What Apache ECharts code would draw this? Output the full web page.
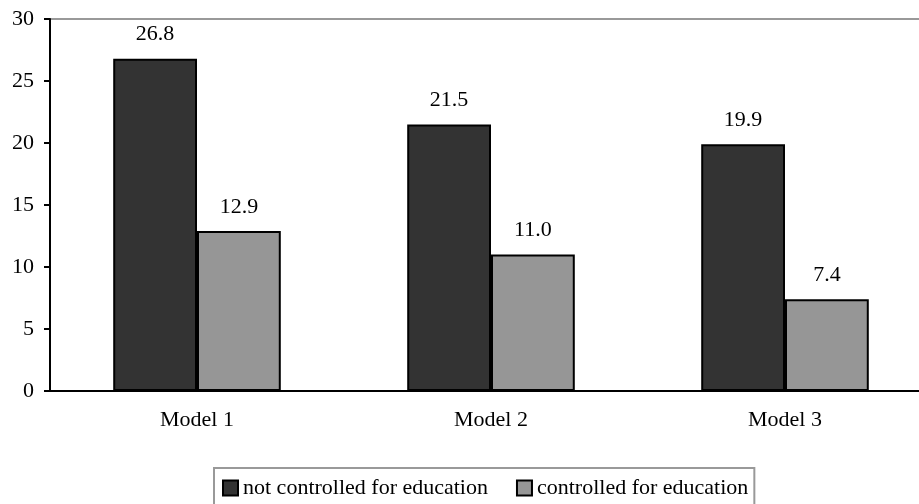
<!DOCTYPE html>
<html>
<head>
<meta charset="utf-8">
<script src="https://cdn.jsdelivr.net/npm/echarts@6/dist/echarts.min.js"></script>
<style>html,body{margin:0;padding:0;background:#fff;overflow:hidden;width:919px;height:504px}#c{width:940px;height:504px}</style>
</head>
<body>
<div id="c"></div>
<script>
const categories = ['Model 1', 'Model 2', 'Model 3'];
const notControlled = [26.8, 21.5, 19.9];
const controlled = [12.9, 11.0, 7.4];
const seriesNames = ['not controlled for education', 'controlled for education'];

const serif = '"Liberation Serif", "Times New Roman", serif';
const chart = echarts.init(document.getElementById('c'));
const labelCfg = {
  show: true, position: 'top', distance: 13,
  fontFamily: serif, fontSize: 22, color: '#000',
  formatter: p => p.value.toFixed(1)
};
chart.setOption({
  animation: false,
  backgroundColor: '#fff',
  grid: { left: 50, width: 882, top: 19, bottom: 113, show: true, borderColor: '#999', borderWidth: 2, containLabel: false },
  legend: {
    top: 468, left: 214,
    data: seriesNames,
    borderColor: '#999', borderWidth: 2, borderRadius: 0,
    padding: [9, 6, 20, 8],
    itemWidth: 15, itemHeight: 15, itemGap: 28,
    icon: 'rect',
    textStyle: { fontFamily: serif, fontSize: 22, color: '#000' }
  },
  xAxis: {
    type: 'category', data: categories,
    axisLine: { lineStyle: { color: '#000', width: 2 } },
    axisTick: { show: false },
    axisLabel: { fontFamily: serif, fontSize: 22, color: '#000', margin: 18 }
  },
  yAxis: {
    type: 'value', min: 0, max: 30, interval: 5,
    axisLine: { show: true, lineStyle: { color: '#000', width: 2 } },
    axisTick: { show: true, length: 6, lineStyle: { color: '#000', width: 2 } },
    splitLine: { show: false },
    axisLabel: { fontFamily: serif, fontSize: 22, color: '#000', margin: 16 }
  },
  series: [
    { name: seriesNames[0], type: 'bar', data: notControlled, barGap: '0%', barCategoryGap: '43%',
      itemStyle: { color: '#333333', borderColor: '#000', borderWidth: 2 }, label: labelCfg },
    { name: seriesNames[1], type: 'bar', data: controlled,
      itemStyle: { color: '#969696', borderColor: '#000', borderWidth: 2 }, label: labelCfg }
  ]
});
</script>
</body>
</html>
